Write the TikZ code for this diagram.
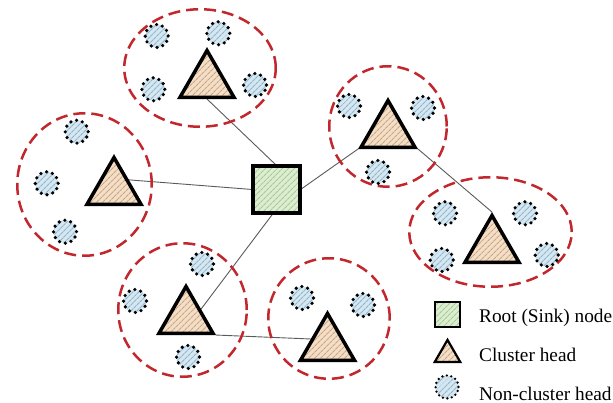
\documentclass[tikz,border=0pt]{standalone}
\usepackage{fontspec}
\setmainfont{Liberation Serif}
\usetikzlibrary{shapes.geometric,patterns.meta,backgrounds}

\definecolor{ringred}{HTML}{C1272D}
\definecolor{linkgray}{HTML}{5A5A5A}
\definecolor{headbg}{HTML}{F4DEC6}
\definecolor{headhatch}{HTML}{C9A887}
\definecolor{memberbg}{HTML}{D5E7F1}
\definecolor{memberhatch}{HTML}{93B6CC}
\definecolor{sinkbg}{HTML}{DDEDD2}
\definecolor{sinkhatch}{HTML}{A7CB93}

\tikzset{
  hatch/.style 2 args={preaction={fill=#1}, pattern={Lines[angle=45,distance=4pt,line width=1.1pt]}, pattern color=#2},
  cluster/.style={ellipse, inner sep=0pt, draw=ringred, line width=2.5pt, dash pattern=on 12pt off 6pt},
  link/.style={draw=linkgray, line width=0.9pt},
  chead/.style={regular polygon, regular polygon sides=3, inner sep=0pt, minimum size=62.35pt,
    draw=black, line width=3.5pt, hatch={headbg}{headhatch}},
  member/.style={circle, inner sep=0pt, minimum size=23pt, hatch={memberbg}{memberhatch},
    draw=black, line width=3.6pt, line cap=round, dash pattern=on 0pt off 6.02pt},
  sinkbox/.style={rectangle, inner sep=0pt, minimum size=47pt, draw=black, line width=4pt,
    hatch={sinkbg}{sinkhatch}},
  keytext/.style={anchor=base west, inner sep=0pt, font=\fontsize{19.3}{22}\selectfont}
}

\begin{document}
\begin{tikzpicture}[x=1pt,y=-1pt]
\useasboundingbox (0,0) rectangle (613,403);

% cluster boundaries
\node[cluster, minimum width=151.5pt, minimum height=117.5pt] (c1) at (200,68) {};
\node[cluster, minimum width=134.5pt, minimum height=142.5pt] (c2) at (84.5,184.5) {};
\node[cluster, minimum width=117.5pt, minimum height=120.5pt] (c3) at (388,126.5) {};
\node[cluster, minimum width=162.5pt, minimum height=109.5pt] (c4) at (490.5,232) {};
\node[cluster, minimum width=128.5pt, minimum height=133.5pt] (c5) at (182.5,310) {};
\node[cluster, minimum width=121.5pt, minimum height=120.5pt] (c6) at (329,318.5) {};

% root (sink) node
\node[sinkbox] (sink) at (276.5,189.5) {};

% cluster heads (placed at their centroids)
\node[chead] (t1) at (207,81.7) {};
\node[chead] (t2) at (114,188.7) {};
\node[chead] (t3) at (388,131.7) {};
\node[chead] (t4) at (492,246.7) {};
\node[chead] (t5) at (186,317.7) {};
\node[chead] (t6) at (327.5,344.7) {};

% non-cluster heads
\node[member] (m11) at (156.7,36) {};
\node[member] (m12) at (218.3,33.3) {};
\node[member] (m13) at (153.3,89.3) {};
\node[member] (m14) at (255,85) {};
\node[member] (m21) at (76.7,131.7) {};
\node[member] (m22) at (46.7,183.3) {};
\node[member] (m23) at (65,231.7) {};
\node[member] (m31) at (349,106) {};
\node[member] (m32) at (423,108) {};
\node[member] (m33) at (378,172) {};
\node[member] (m41) at (445,213.3) {};
\node[member] (m42) at (525,213.3) {};
\node[member] (m43) at (441.7,260) {};
\node[member] (m44) at (546.7,255) {};
\node[member] (m51) at (202,264) {};
\node[member] (m52) at (135,301) {};
\node[member] (m53) at (188,357) {};
\node[member] (m61) at (302,298) {};
\node[member] (m62) at (363,305) {};

% links between heads and the sink
\begin{scope}[on background layer]
  \draw[link] (t1.south) -- (sink.north);
  \draw[link] ([yshift=10pt]t2.center) -- (sink.west);
  \draw[link] (t3.corner 2) -- (sink.east);
  \draw[link] (t3.corner 3) -- (t4.corner 1);
  \draw[link] ([xshift=-3.5pt]sink.south) -- ([xshift=-4.5pt]t5.south);
  \draw[link] (t5.corner 3) -- ([yshift=5pt]t6.center);
\end{scope}

% legend
\node[sinkbox, minimum size=25pt, line width=2pt] (ksink) at (447,314.5) {};
\node[chead, minimum size=29.4pt, line width=2.2pt] (khead) at (447.5,354.6) {};
\node[member, line width=2.6pt, dash pattern=on 0pt off 4.52pt] (kmember) at (447,387) {};
\node[keytext] (lsink) at (479,322.7) {Root (Sink) node};
\node[keytext] (lhead) at (479,361.7) {Cluster head};
\node[keytext] (lmember) at (479,400) {Non-cluster head};
\end{tikzpicture}
\end{document}
